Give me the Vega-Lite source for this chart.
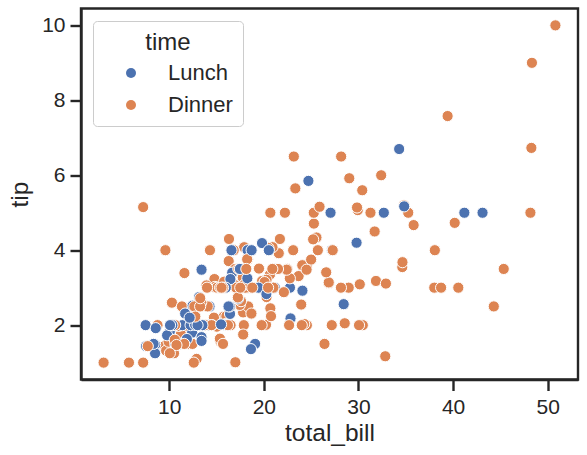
{
  "$schema": "https://vega.github.io/schema/vega-lite/v6.json",
  "width": 497,
  "height": 371,
  "autosize": {"type": "none"},
  "padding": {"left": 81, "top": 8.5, "right": 9, "bottom": 75},
  "background": "white",
  "config": {
    "font": "Liberation Sans",
    "view": {"stroke": "#262626", "strokeWidth": 2.4},
    "axis": {
      "grid": false,
      "domainColor": "#262626",
      "domainWidth": 2.4,
      "tickColor": "#262626",
      "tickWidth": 2.4,
      "tickSize": 11,
      "labelFont": "Liberation Sans",
      "labelFontSize": 21,
      "labelColor": "#262626",
      "titleFont": "Liberation Sans",
      "titleFontSize": 24.5,
      "titleFontWeight": "normal",
      "titleColor": "#262626"
    },
    "legend": {
      "titleFont": "Liberation Sans",
      "labelFont": "Liberation Sans"
    }
  },
  "data": {
    "values": [
      {"total_bill":16.99,"tip":1.01,"time":"Dinner"},
      {"total_bill":10.34,"tip":1.66,"time":"Dinner"},
      {"total_bill":21.01,"tip":3.5,"time":"Dinner"},
      {"total_bill":23.68,"tip":3.31,"time":"Dinner"},
      {"total_bill":24.59,"tip":3.61,"time":"Dinner"},
      {"total_bill":25.29,"tip":4.71,"time":"Dinner"},
      {"total_bill":8.77,"tip":2.0,"time":"Dinner"},
      {"total_bill":26.88,"tip":3.12,"time":"Dinner"},
      {"total_bill":15.04,"tip":1.96,"time":"Dinner"},
      {"total_bill":14.78,"tip":3.23,"time":"Dinner"},
      {"total_bill":10.27,"tip":1.71,"time":"Dinner"},
      {"total_bill":35.26,"tip":5.0,"time":"Dinner"},
      {"total_bill":15.42,"tip":1.57,"time":"Dinner"},
      {"total_bill":18.43,"tip":3.0,"time":"Dinner"},
      {"total_bill":14.83,"tip":3.02,"time":"Dinner"},
      {"total_bill":21.58,"tip":3.92,"time":"Dinner"},
      {"total_bill":10.33,"tip":1.67,"time":"Dinner"},
      {"total_bill":16.29,"tip":3.71,"time":"Dinner"},
      {"total_bill":16.97,"tip":3.5,"time":"Dinner"},
      {"total_bill":20.65,"tip":3.35,"time":"Dinner"},
      {"total_bill":17.92,"tip":4.08,"time":"Dinner"},
      {"total_bill":20.29,"tip":2.75,"time":"Dinner"},
      {"total_bill":15.77,"tip":2.23,"time":"Dinner"},
      {"total_bill":39.42,"tip":7.58,"time":"Dinner"},
      {"total_bill":19.82,"tip":3.18,"time":"Dinner"},
      {"total_bill":17.81,"tip":2.34,"time":"Dinner"},
      {"total_bill":13.37,"tip":2.0,"time":"Dinner"},
      {"total_bill":12.69,"tip":2.0,"time":"Dinner"},
      {"total_bill":21.7,"tip":4.3,"time":"Dinner"},
      {"total_bill":19.65,"tip":3.0,"time":"Dinner"},
      {"total_bill":9.55,"tip":1.45,"time":"Dinner"},
      {"total_bill":18.35,"tip":2.5,"time":"Dinner"},
      {"total_bill":15.06,"tip":3.0,"time":"Dinner"},
      {"total_bill":20.69,"tip":2.45,"time":"Dinner"},
      {"total_bill":17.78,"tip":3.27,"time":"Dinner"},
      {"total_bill":24.06,"tip":3.6,"time":"Dinner"},
      {"total_bill":16.31,"tip":2.0,"time":"Dinner"},
      {"total_bill":16.93,"tip":3.07,"time":"Dinner"},
      {"total_bill":18.69,"tip":2.31,"time":"Dinner"},
      {"total_bill":31.27,"tip":5.0,"time":"Dinner"},
      {"total_bill":16.04,"tip":2.24,"time":"Dinner"},
      {"total_bill":17.46,"tip":2.54,"time":"Dinner"},
      {"total_bill":13.94,"tip":3.06,"time":"Dinner"},
      {"total_bill":9.68,"tip":1.32,"time":"Dinner"},
      {"total_bill":30.4,"tip":5.6,"time":"Dinner"},
      {"total_bill":18.29,"tip":3.0,"time":"Dinner"},
      {"total_bill":22.23,"tip":5.0,"time":"Dinner"},
      {"total_bill":32.4,"tip":6.0,"time":"Dinner"},
      {"total_bill":28.55,"tip":2.05,"time":"Dinner"},
      {"total_bill":18.04,"tip":3.0,"time":"Dinner"},
      {"total_bill":12.54,"tip":2.5,"time":"Dinner"},
      {"total_bill":10.29,"tip":2.6,"time":"Dinner"},
      {"total_bill":34.81,"tip":5.2,"time":"Dinner"},
      {"total_bill":9.94,"tip":1.56,"time":"Dinner"},
      {"total_bill":25.56,"tip":4.34,"time":"Dinner"},
      {"total_bill":19.49,"tip":3.51,"time":"Dinner"},
      {"total_bill":38.01,"tip":3.0,"time":"Dinner"},
      {"total_bill":26.41,"tip":1.5,"time":"Dinner"},
      {"total_bill":11.24,"tip":1.76,"time":"Dinner"},
      {"total_bill":48.27,"tip":6.73,"time":"Dinner"},
      {"total_bill":20.29,"tip":3.21,"time":"Dinner"},
      {"total_bill":13.81,"tip":2.0,"time":"Dinner"},
      {"total_bill":11.02,"tip":1.98,"time":"Dinner"},
      {"total_bill":18.29,"tip":3.76,"time":"Dinner"},
      {"total_bill":17.59,"tip":2.64,"time":"Dinner"},
      {"total_bill":20.08,"tip":3.15,"time":"Dinner"},
      {"total_bill":16.45,"tip":2.47,"time":"Dinner"},
      {"total_bill":3.07,"tip":1.0,"time":"Dinner"},
      {"total_bill":20.23,"tip":2.01,"time":"Dinner"},
      {"total_bill":15.01,"tip":2.09,"time":"Dinner"},
      {"total_bill":12.02,"tip":1.97,"time":"Dinner"},
      {"total_bill":17.07,"tip":3.0,"time":"Dinner"},
      {"total_bill":26.86,"tip":3.14,"time":"Dinner"},
      {"total_bill":25.28,"tip":5.0,"time":"Dinner"},
      {"total_bill":14.73,"tip":2.2,"time":"Dinner"},
      {"total_bill":10.51,"tip":1.25,"time":"Dinner"},
      {"total_bill":17.92,"tip":3.08,"time":"Dinner"},
      {"total_bill":27.2,"tip":4.0,"time":"Lunch"},
      {"total_bill":22.76,"tip":3.0,"time":"Lunch"},
      {"total_bill":17.29,"tip":2.71,"time":"Lunch"},
      {"total_bill":19.44,"tip":3.0,"time":"Lunch"},
      {"total_bill":16.66,"tip":3.4,"time":"Lunch"},
      {"total_bill":10.07,"tip":1.83,"time":"Lunch"},
      {"total_bill":32.68,"tip":5.0,"time":"Lunch"},
      {"total_bill":15.98,"tip":2.03,"time":"Lunch"},
      {"total_bill":34.83,"tip":5.17,"time":"Lunch"},
      {"total_bill":13.03,"tip":2.0,"time":"Lunch"},
      {"total_bill":18.28,"tip":4.0,"time":"Lunch"},
      {"total_bill":24.71,"tip":5.85,"time":"Lunch"},
      {"total_bill":21.16,"tip":3.0,"time":"Lunch"},
      {"total_bill":28.97,"tip":3.0,"time":"Dinner"},
      {"total_bill":22.49,"tip":3.5,"time":"Dinner"},
      {"total_bill":5.75,"tip":1.0,"time":"Dinner"},
      {"total_bill":16.32,"tip":4.3,"time":"Dinner"},
      {"total_bill":22.75,"tip":3.25,"time":"Dinner"},
      {"total_bill":40.17,"tip":4.73,"time":"Dinner"},
      {"total_bill":27.28,"tip":4.0,"time":"Dinner"},
      {"total_bill":12.03,"tip":1.5,"time":"Dinner"},
      {"total_bill":21.01,"tip":3.0,"time":"Dinner"},
      {"total_bill":12.46,"tip":1.5,"time":"Dinner"},
      {"total_bill":11.35,"tip":2.5,"time":"Dinner"},
      {"total_bill":15.38,"tip":3.0,"time":"Dinner"},
      {"total_bill":44.3,"tip":2.5,"time":"Dinner"},
      {"total_bill":22.42,"tip":3.48,"time":"Dinner"},
      {"total_bill":20.92,"tip":4.08,"time":"Dinner"},
      {"total_bill":15.36,"tip":1.64,"time":"Dinner"},
      {"total_bill":20.49,"tip":4.06,"time":"Dinner"},
      {"total_bill":25.21,"tip":4.29,"time":"Dinner"},
      {"total_bill":18.24,"tip":3.76,"time":"Dinner"},
      {"total_bill":14.31,"tip":4.0,"time":"Dinner"},
      {"total_bill":14.0,"tip":3.0,"time":"Dinner"},
      {"total_bill":7.25,"tip":1.0,"time":"Dinner"},
      {"total_bill":38.07,"tip":4.0,"time":"Dinner"},
      {"total_bill":23.95,"tip":2.55,"time":"Dinner"},
      {"total_bill":25.71,"tip":4.0,"time":"Dinner"},
      {"total_bill":17.31,"tip":3.5,"time":"Dinner"},
      {"total_bill":29.93,"tip":5.07,"time":"Dinner"},
      {"total_bill":10.65,"tip":1.5,"time":"Lunch"},
      {"total_bill":12.43,"tip":1.8,"time":"Lunch"},
      {"total_bill":24.08,"tip":2.92,"time":"Lunch"},
      {"total_bill":11.69,"tip":2.31,"time":"Lunch"},
      {"total_bill":13.42,"tip":1.68,"time":"Lunch"},
      {"total_bill":14.26,"tip":2.5,"time":"Lunch"},
      {"total_bill":15.95,"tip":2.0,"time":"Lunch"},
      {"total_bill":12.48,"tip":2.52,"time":"Lunch"},
      {"total_bill":29.8,"tip":4.2,"time":"Lunch"},
      {"total_bill":8.52,"tip":1.48,"time":"Lunch"},
      {"total_bill":14.52,"tip":2.0,"time":"Lunch"},
      {"total_bill":11.38,"tip":2.0,"time":"Lunch"},
      {"total_bill":22.82,"tip":2.18,"time":"Lunch"},
      {"total_bill":19.08,"tip":1.5,"time":"Lunch"},
      {"total_bill":20.27,"tip":2.83,"time":"Lunch"},
      {"total_bill":11.17,"tip":1.5,"time":"Lunch"},
      {"total_bill":12.26,"tip":2.0,"time":"Lunch"},
      {"total_bill":18.26,"tip":3.25,"time":"Lunch"},
      {"total_bill":8.51,"tip":1.25,"time":"Lunch"},
      {"total_bill":10.33,"tip":2.0,"time":"Lunch"},
      {"total_bill":14.15,"tip":2.0,"time":"Lunch"},
      {"total_bill":16.0,"tip":2.0,"time":"Lunch"},
      {"total_bill":13.16,"tip":2.75,"time":"Lunch"},
      {"total_bill":17.47,"tip":3.5,"time":"Lunch"},
      {"total_bill":34.3,"tip":6.7,"time":"Lunch"},
      {"total_bill":41.19,"tip":5.0,"time":"Lunch"},
      {"total_bill":27.05,"tip":5.0,"time":"Lunch"},
      {"total_bill":16.43,"tip":2.3,"time":"Lunch"},
      {"total_bill":8.35,"tip":1.5,"time":"Lunch"},
      {"total_bill":18.64,"tip":1.36,"time":"Lunch"},
      {"total_bill":11.87,"tip":1.63,"time":"Lunch"},
      {"total_bill":9.78,"tip":1.73,"time":"Lunch"},
      {"total_bill":7.51,"tip":2.0,"time":"Lunch"},
      {"total_bill":14.07,"tip":2.5,"time":"Dinner"},
      {"total_bill":13.13,"tip":2.0,"time":"Dinner"},
      {"total_bill":17.26,"tip":2.74,"time":"Dinner"},
      {"total_bill":24.55,"tip":2.0,"time":"Dinner"},
      {"total_bill":19.77,"tip":2.0,"time":"Dinner"},
      {"total_bill":29.85,"tip":5.14,"time":"Dinner"},
      {"total_bill":48.17,"tip":5.0,"time":"Dinner"},
      {"total_bill":25.0,"tip":3.75,"time":"Dinner"},
      {"total_bill":13.39,"tip":2.61,"time":"Dinner"},
      {"total_bill":16.49,"tip":2.0,"time":"Dinner"},
      {"total_bill":21.5,"tip":3.5,"time":"Dinner"},
      {"total_bill":12.66,"tip":2.5,"time":"Dinner"},
      {"total_bill":16.21,"tip":2.0,"time":"Dinner"},
      {"total_bill":13.81,"tip":2.0,"time":"Dinner"},
      {"total_bill":17.51,"tip":3.0,"time":"Dinner"},
      {"total_bill":24.52,"tip":3.48,"time":"Dinner"},
      {"total_bill":20.76,"tip":2.24,"time":"Dinner"},
      {"total_bill":31.71,"tip":4.5,"time":"Dinner"},
      {"total_bill":10.59,"tip":1.61,"time":"Dinner"},
      {"total_bill":10.63,"tip":2.0,"time":"Dinner"},
      {"total_bill":50.81,"tip":10.0,"time":"Dinner"},
      {"total_bill":15.81,"tip":3.16,"time":"Dinner"},
      {"total_bill":7.25,"tip":5.15,"time":"Dinner"},
      {"total_bill":31.85,"tip":3.18,"time":"Dinner"},
      {"total_bill":16.82,"tip":4.0,"time":"Dinner"},
      {"total_bill":32.9,"tip":3.11,"time":"Dinner"},
      {"total_bill":17.89,"tip":2.0,"time":"Dinner"},
      {"total_bill":14.48,"tip":2.0,"time":"Dinner"},
      {"total_bill":9.6,"tip":4.0,"time":"Dinner"},
      {"total_bill":34.63,"tip":3.55,"time":"Dinner"},
      {"total_bill":34.65,"tip":3.68,"time":"Dinner"},
      {"total_bill":23.33,"tip":5.65,"time":"Dinner"},
      {"total_bill":45.35,"tip":3.5,"time":"Dinner"},
      {"total_bill":23.17,"tip":6.5,"time":"Dinner"},
      {"total_bill":40.55,"tip":3.0,"time":"Dinner"},
      {"total_bill":20.69,"tip":5.0,"time":"Dinner"},
      {"total_bill":20.9,"tip":3.5,"time":"Dinner"},
      {"total_bill":30.46,"tip":2.0,"time":"Dinner"},
      {"total_bill":18.15,"tip":3.5,"time":"Dinner"},
      {"total_bill":23.1,"tip":4.0,"time":"Dinner"},
      {"total_bill":15.69,"tip":1.5,"time":"Dinner"},
      {"total_bill":19.81,"tip":4.19,"time":"Lunch"},
      {"total_bill":28.44,"tip":2.56,"time":"Lunch"},
      {"total_bill":15.48,"tip":2.02,"time":"Lunch"},
      {"total_bill":16.58,"tip":4.0,"time":"Lunch"},
      {"total_bill":7.56,"tip":1.44,"time":"Lunch"},
      {"total_bill":10.34,"tip":2.0,"time":"Lunch"},
      {"total_bill":43.11,"tip":5.0,"time":"Lunch"},
      {"total_bill":13.0,"tip":2.0,"time":"Lunch"},
      {"total_bill":13.51,"tip":2.0,"time":"Lunch"},
      {"total_bill":18.71,"tip":4.0,"time":"Lunch"},
      {"total_bill":12.74,"tip":2.01,"time":"Lunch"},
      {"total_bill":13.0,"tip":2.0,"time":"Lunch"},
      {"total_bill":16.4,"tip":2.5,"time":"Lunch"},
      {"total_bill":20.53,"tip":4.0,"time":"Lunch"},
      {"total_bill":16.47,"tip":3.23,"time":"Lunch"},
      {"total_bill":26.59,"tip":3.41,"time":"Dinner"},
      {"total_bill":38.73,"tip":3.0,"time":"Dinner"},
      {"total_bill":24.27,"tip":2.03,"time":"Dinner"},
      {"total_bill":12.76,"tip":2.23,"time":"Dinner"},
      {"total_bill":30.06,"tip":2.0,"time":"Dinner"},
      {"total_bill":25.89,"tip":5.16,"time":"Dinner"},
      {"total_bill":48.33,"tip":9.0,"time":"Dinner"},
      {"total_bill":13.27,"tip":2.5,"time":"Dinner"},
      {"total_bill":28.17,"tip":6.5,"time":"Dinner"},
      {"total_bill":12.9,"tip":1.1,"time":"Dinner"},
      {"total_bill":28.15,"tip":3.0,"time":"Dinner"},
      {"total_bill":11.59,"tip":1.5,"time":"Dinner"},
      {"total_bill":7.74,"tip":1.44,"time":"Dinner"},
      {"total_bill":30.14,"tip":3.09,"time":"Dinner"},
      {"total_bill":12.16,"tip":2.2,"time":"Lunch"},
      {"total_bill":13.42,"tip":3.48,"time":"Lunch"},
      {"total_bill":8.58,"tip":1.92,"time":"Lunch"},
      {"total_bill":15.98,"tip":3.0,"time":"Lunch"},
      {"total_bill":13.42,"tip":1.58,"time":"Lunch"},
      {"total_bill":16.27,"tip":2.5,"time":"Lunch"},
      {"total_bill":10.09,"tip":2.0,"time":"Lunch"},
      {"total_bill":20.45,"tip":3.0,"time":"Dinner"},
      {"total_bill":13.28,"tip":2.72,"time":"Dinner"},
      {"total_bill":22.12,"tip":2.88,"time":"Dinner"},
      {"total_bill":24.01,"tip":2.0,"time":"Dinner"},
      {"total_bill":15.69,"tip":3.0,"time":"Dinner"},
      {"total_bill":11.61,"tip":3.39,"time":"Dinner"},
      {"total_bill":10.77,"tip":1.47,"time":"Dinner"},
      {"total_bill":15.53,"tip":3.0,"time":"Dinner"},
      {"total_bill":10.07,"tip":1.25,"time":"Dinner"},
      {"total_bill":12.6,"tip":1.0,"time":"Dinner"},
      {"total_bill":32.83,"tip":1.17,"time":"Dinner"},
      {"total_bill":35.83,"tip":4.67,"time":"Dinner"},
      {"total_bill":29.03,"tip":5.92,"time":"Dinner"},
      {"total_bill":27.18,"tip":2.0,"time":"Dinner"},
      {"total_bill":22.67,"tip":2.0,"time":"Dinner"},
      {"total_bill":17.82,"tip":1.75,"time":"Dinner"},
      {"total_bill":18.78,"tip":3.0,"time":"Dinner"}
    ]
  },
  "mark": {"type": "point", "filled": true, "opacity": 1, "size": 125, "stroke": "white", "strokeWidth": 1},
  "encoding": {
    "x": {
      "field": "total_bill", "type": "quantitative",
      "scale": {"domain": [0.683, 53.197], "nice": false, "zero": false},
      "axis": {"values": [10, 20, 30, 40, 50], "labelPadding": 6, "titlePadding": 4, "title": "total_bill"}
    },
    "y": {
      "field": "tip", "type": "quantitative",
      "scale": {"domain": [0.55, 10.45], "nice": false, "zero": false},
      "axis": {"values": [2, 4, 6, 8, 10], "labelPadding": 5, "titlePadding": 9, "title": "tip"}
    },
    "color": {
      "field": "time", "type": "nominal",
      "scale": {"domain": ["Lunch", "Dinner"], "range": ["#4c72b0", "#dd8452"]},
      "legend": {
        "title": "time",
        "orient": "none",
        "legendX": 12,
        "legendY": 12.5,
        "padding": 10,
        "fillColor": "rgba(255,255,255,0.8)",
        "strokeColor": "#cccccc",
        "cornerRadius": 4,
        "titleFontSize": 24,
        "titleFontWeight": "normal",
        "titleColor": "#262626",
        "titleAnchor": "middle",
        "titlePadding": 7,
        "labelFontSize": 22,
        "labelColor": "#262626",
        "symbolType": "circle",
        "symbolSize": 100,
        "symbolStrokeWidth": 0,
        "symbolOpacity": 1,
        "symbolOffset": 17,
        "labelOffset": 26,
        "rowPadding": 10
      }
    }
  }
}
